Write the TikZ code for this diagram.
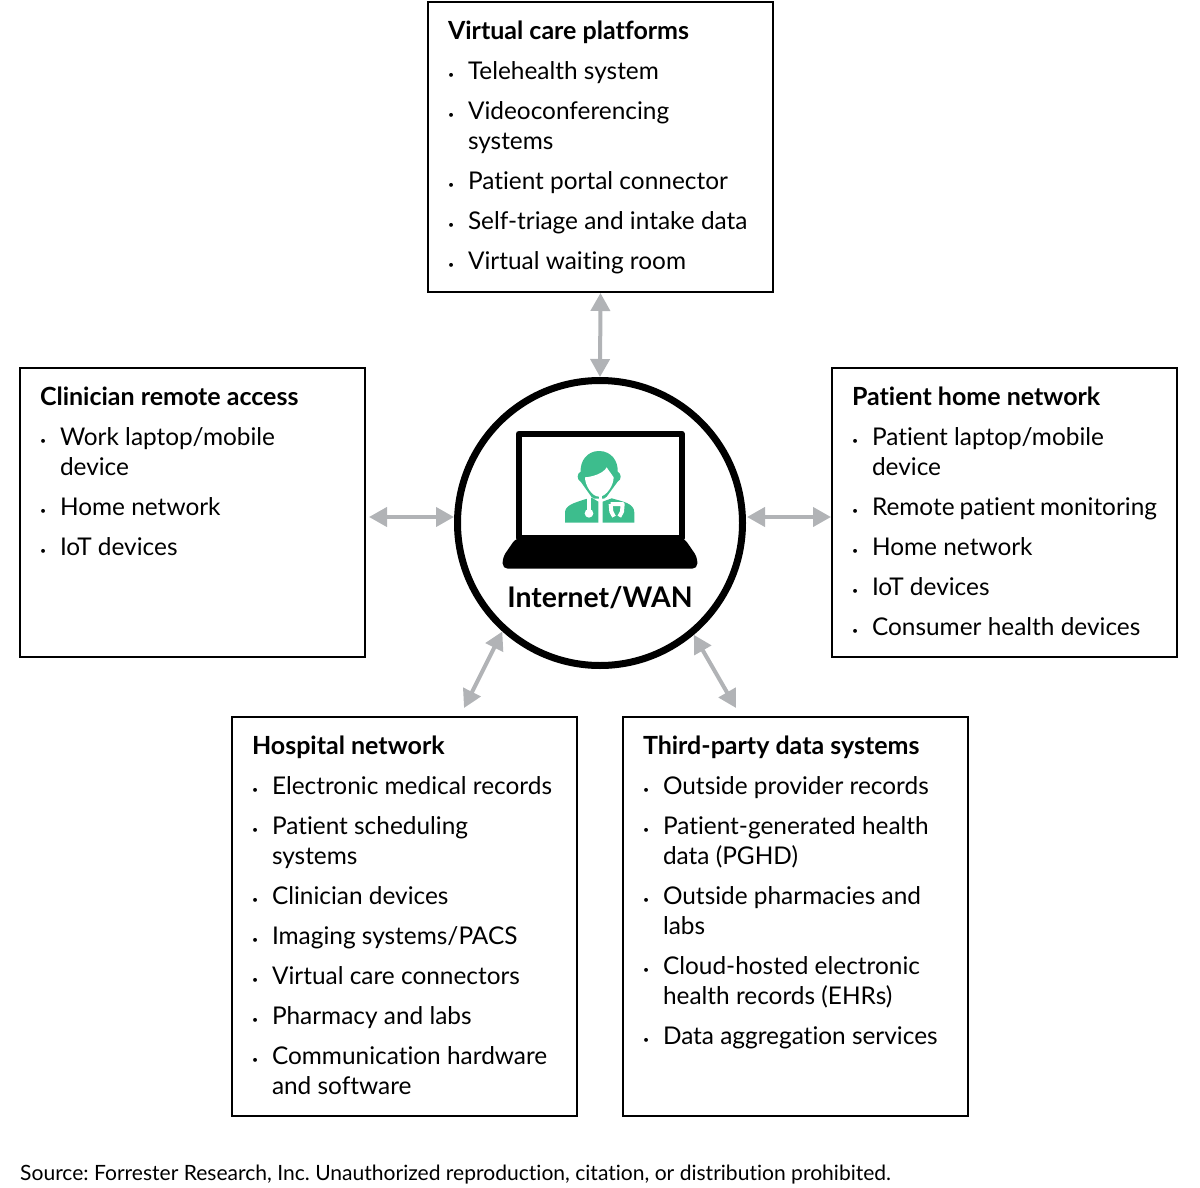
\documentclass[tikz,border=0pt]{standalone}
\usepackage{fontspec}
\setmainfont{Lato}[Ligatures=NoCommon]
\usepackage{xcolor}
\definecolor{ColLink}{RGB}{177,179,182}
\definecolor{ColDoc}{RGB}{61,189,141}
\usepackage{tikz}
\usetikzlibrary{arrows.meta}
\newcommand{\BoxText}[4]{\begin{minipage}[c][#1pt][t]{305pt}
    \fontsize{24.4}{30}\selectfont\raggedright\setlength{\parskip}{10pt}%
    \noindent\rule{0pt}{#2pt}{\fontsize{25}{30}\selectfont\bfseries #3}#4\end{minipage}}
\newcommand{\Entry}[1]{\par\leftskip=20pt\noindent
    \llap{\makebox[20pt][l]{\fontsize{10.5}{13}\selectfont\raisebox{1pt}{\textbullet}}}#1}
\tikzstyle{Box}=[draw=black,line width=1.4pt,anchor=north west,inner xsep=20pt,inner ysep=0pt,
outer sep=0pt]
\tikzstyle{Hub}=[circle,draw=black,line width=7pt,minimum size=285pt,inner sep=0pt,outer sep=3.5pt]
\tikzstyle{Link}=[draw=ColLink,line width=4pt,{Triangle[length=18pt,width=19pt]}-{Triangle[length=18pt,width=19pt]}]
\begin{document}
\frenchspacing
\begin{tikzpicture}[x=1pt,y=-1pt]
    \useasboundingbox(0,0)rectangle(1200,1188);
    \node[Box](Virtual)at(428,2){\BoxText{290}{38}{Virtual care platforms}{%
        \Entry{Telehealth system}
        \Entry{Videoconferencing\\systems}
        \Entry{Patient portal connector}
        \Entry{Self-triage and intake data}
        \Entry{Virtual waiting room}}};
    \node[Box](Clinician)at(20,368){\BoxText{289}{37.4}{Clinician remote access}{%
        \Entry{Work laptop/mobile\\device}
        \Entry{Home network}
        \Entry{IoT devices}}};
    \node[Box](Patient)at(832,368){\BoxText{289}{37.4}{Patient home network}{%
        \Entry{Patient laptop/mobile\\device}
        \Entry{Remote~patient~monitoring}
        \Entry{Home network}
        \Entry{IoT devices}
        \Entry{Consumer health devices}}};
    \node[Box](Hospital)at(232,717){\BoxText{399}{37.4}{Hospital network}{%
        \Entry{Electronic medical records}
        \Entry{Patient scheduling\\systems}
        \Entry{Clinician devices}
        \Entry{Imaging systems/PACS}
        \Entry{Virtual care connectors}
        \Entry{Pharmacy and labs}
        \Entry{Communication hardware\\and software}}};
    \node[Box](Third)at(623,717){\BoxText{399}{37.4}{Third-party data systems}{%
        \Entry{Outside provider records}
        \Entry{Patient-generated health\\data (PGHD)}
        \Entry{Outside pharmacies and\\labs}
        \Entry{Cloud-hosted electronic\\health records (EHRs)}
        \Entry{Data aggregation services}}};
    \node[Hub](Wan)at(600,523){};
    \node[font=\fontsize{28.4}{29}\selectfont\bfseries](WanText)at(600,598){Internet/WAN};
    \node[anchor=base west,inner sep=0pt,font=\fontsize{21.05}{24}\selectfont](Source)at(20,1180)
        {Source: Forrester Research, Inc. Unauthorized reproduction, citation, or distribution prohibited.};
    \draw[Link]([yshift=-1pt]Virtual.south)--(Wan.north);
    \draw[Link]([shift={(4,4.5)}]Clinician.east)--([shift={(0,-6)}]Wan.west);
    \draw[Link]([shift={(-1,4.5)}]Patient.west)--([shift={(1,-6)}]Wan.east);
    \draw[Link]([shift={(59.5,-9)}]Hospital.north)--(Wan.228.6);
    \draw[Link]([shift={(-59.5,-9)}]Third.north)--(Wan.310.9);
    % laptop
    \begin{scope}[shift={(450,370)},scale=1/3]
        \draw[black,line width=6pt,line join=round](206,191)rectangle(695,505);
        \fill[black,rounded corners=5pt](197,505)--(703,505)--(742,562)--(742,596)--(158,596)--(158,562)--cycle;
        % doctor
        \fill[ColDoc](345,458)--(345,428)..controls(345,405)and(375,398)..(405,388)--(425,383)--(445,395)--(445,458)--cycle;
        \fill[ColDoc](458,458)--(458,395)--(485,385)..controls(520,395)and(553,400)..(553,428)--(553,458)--cycle;
        \draw[white,line width=4pt](417,372)--(417,430);
        \fill[white](417,430)circle(13);
        \draw[white,line width=4pt,line join=round](482,402)--(518,402)--(516,425)--(508,440)
            (482,402)--(484,425)--(492,440);
        \fill[ColDoc](447,243)..controls(485,243)and(505,275)..(503,305)
            ..controls(515,310)and(515,330)..(503,335)--(470,380)--(462,386)--(432,386)--(424,380)
            --(392,335)..controls(380,330)and(380,310)..(392,305)..controls(390,275)and(410,243)..(447,243)--cycle;
        \fill[white](405,322)..controls(430,320)and(460,310)..(470,292)..controls(478,305)and(485,312)..(491,322)
            ..controls(491,345)and(470,380)..(447,380)..controls(425,380)and(405,345)..(405,322)--cycle;
        \fill[white](447,375)rectangle(457,458);
    \end{scope}
\end{tikzpicture}
\end{document}
